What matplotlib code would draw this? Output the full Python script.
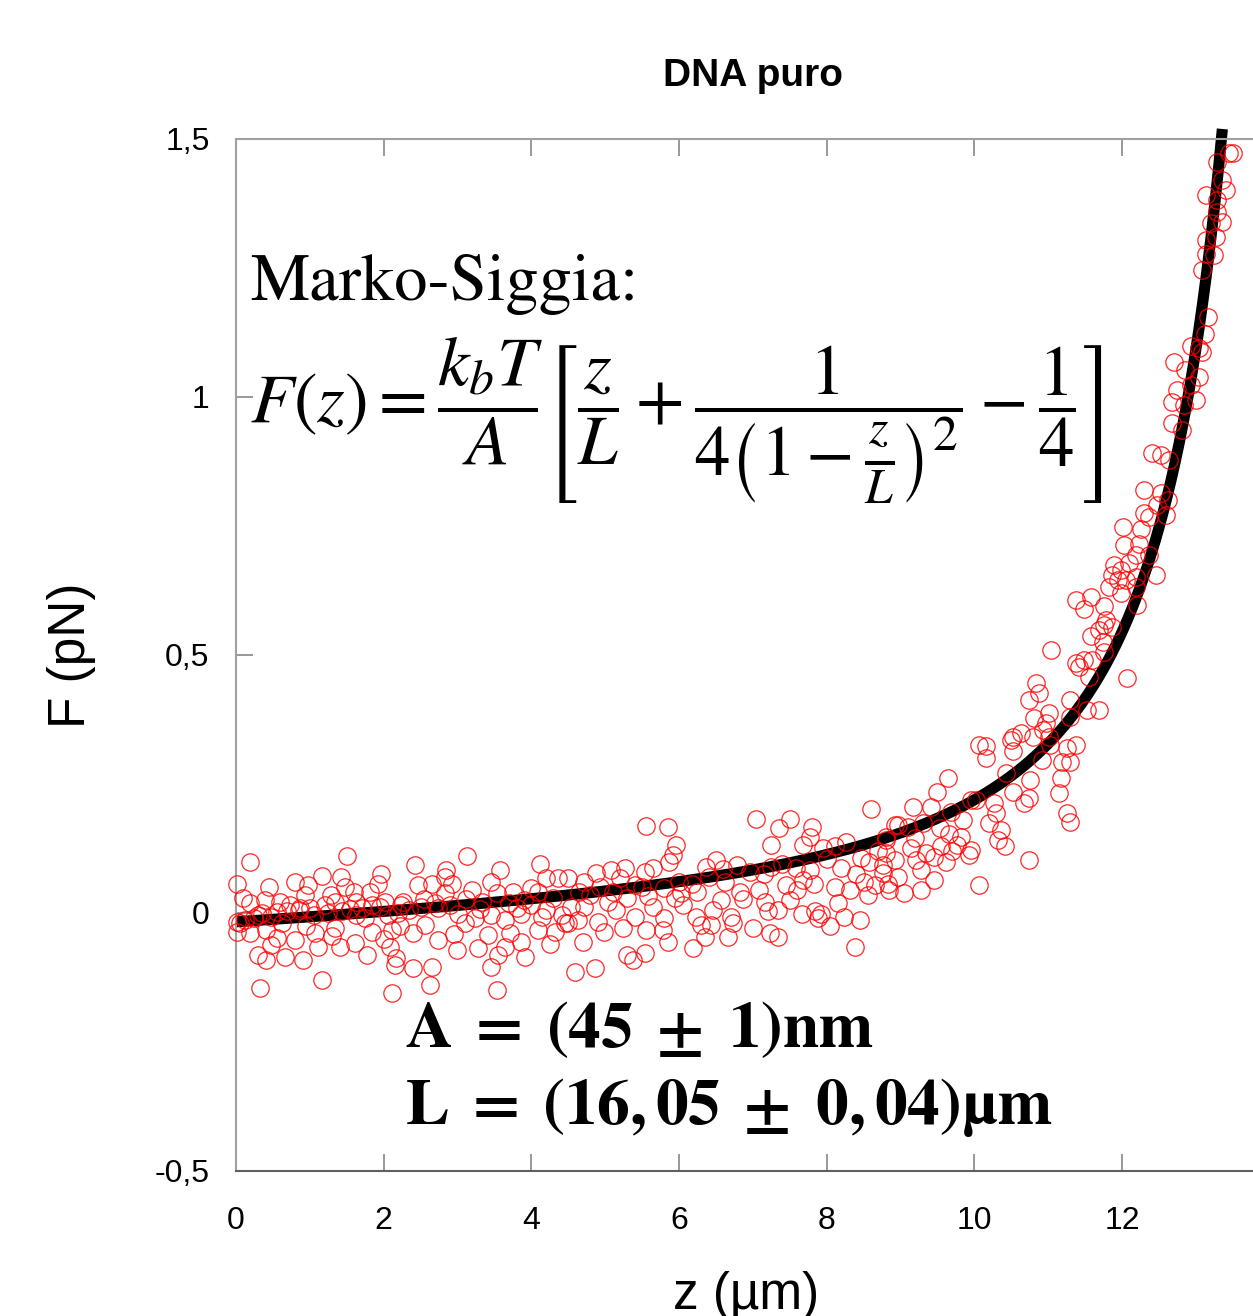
import numpy as np
import matplotlib
matplotlib.use("Agg")
import matplotlib.pyplot as plt

# force-extension points, (z in um, F in pN), grouped by extension range
seg_a = [(0.19, 0.098), (1.50, 0.111), (0.02, 0.057), (1.16, 0.072), (1.42, 0.069), (1.96, 0.075), (0.98, 0.054),
         (1.47, 0.051), (1.92, 0.056), (1.81, 0.041), (0.39, 0.025), (0.19, 0.019), (0.60, 0.022), (0.73, 0.016),
         (0.93, 0.035), (0.87, 0.009), (1.29, 0.035), (1.34, 0.022), (1.20, 0.016), (1.63, 0.022), (1.70, 0.009),
         (1.84, 0.016), (2.02, 0.022), (2.24, 0.016), (0.01, -0.017), (0.12, -0.014), (0.30, -0.004), (0.48, -0.007),
         (0.69, 0.003), (1.05, -0.004), (1.43, 0.003), (1.63, -0.004), (2.06, -0.004), (0.01, -0.036), (0.19, -0.039),
         (0.41, -0.033), (0.55, -0.049), (0.80, -0.052), (1.07, -0.039), (1.34, -0.030), (1.84, -0.036), (2.11, -0.033),
         (0.30, -0.081), (0.41, -0.091), (0.48, -0.062), (0.66, -0.085), (0.91, -0.091), (1.11, -0.065), (1.41, -0.065),
         (1.61, -0.059), (1.77, -0.081), (2.08, -0.065), (2.15, -0.101), (0.32, -0.146), (1.16, -0.130), (2.11, -0.156),
         (0.05, -0.020), (0.25, -0.010), (0.35, 0.000), (0.55, 0.002), (0.85, 0.005), (1.00, 0.010), (1.25, 0.000),
         (1.55, 0.008), (1.75, -0.010), (1.95, 0.012), (2.20, 0.000), (0.10, 0.030), (0.62, -0.020), (0.95, -0.025),
         (1.30, -0.045), (1.60, 0.040), (2.00, -0.050), (0.80, 0.060), (0.45, 0.050)]

seg_b = [(2.43, 0.093), (3.13, 0.110), (2.85, 0.083), (2.83, 0.070), (3.57, 0.083), (4.12, 0.095), (4.20, 0.067),
         (4.36, 0.067), (2.47, 0.054), (2.65, 0.057), (2.92, 0.057), (3.53, 0.038), (3.75, 0.041), (4.00, 0.048),
         (4.09, 0.041), (2.26, 0.022), (2.54, 0.028), (2.83, 0.038), (3.12, 0.028), (3.33, 0.022), (2.74, 0.009),
         (3.01, -0.001), (3.10, -0.020), (3.24, -0.010), (3.46, -0.004), (3.64, -0.014), (3.86, -0.001), (4.14, -0.007),
         (4.41, -0.004), (4.50, -0.020), (2.22, -0.026), (2.40, -0.039), (2.56, -0.023), (2.74, -0.052), (2.99, -0.072),
         (3.28, -0.068), (3.42, -0.043), (3.71, -0.039), (3.86, -0.056), (3.91, -0.085), (4.09, -0.033), (4.32, -0.036),
         (2.17, -0.088), (2.40, -0.107), (2.65, -0.104), (3.46, -0.104), (3.55, -0.081), (2.63, -0.140), (3.53, -0.149),
         (2.50, 0.012), (2.90, 0.015), (3.30, 0.008), (3.70, 0.020), (4.00, 0.015), (4.30, 0.030), (3.90, 0.025),
         (2.35, 0.005), (2.70, 0.020), (3.20, 0.045), (3.45, 0.060), (3.80, 0.010), (4.20, 0.005), (2.95, -0.040),
         (3.65, -0.065), (4.25, -0.060)]

seg_c = [(5.56, 0.169), (5.85, 0.167), (5.96, 0.132), (5.92, 0.112), (5.87, 0.099), (5.65, 0.087), (5.54, 0.080),
         (5.27, 0.087), (4.88, 0.077), (5.08, 0.083), (6.37, 0.090), (6.50, 0.103), (6.78, 0.093), (4.50, 0.067),
         (4.72, 0.061), (4.93, 0.051), (5.20, 0.067), (5.40, 0.054), (5.58, 0.032), (5.80, 0.048), (6.03, 0.038),
         (6.17, 0.057), (6.62, 0.061), (6.82, 0.041), (4.54, 0.012), (4.72, 0.012), (5.04, 0.022), (5.40, -0.007),
         (5.65, 0.012), (5.80, -0.010), (6.05, 0.016), (6.23, -0.007), (6.46, 0.006), (6.57, 0.025), (6.71, -0.007),
         (4.45, -0.020), (4.63, -0.014), (4.90, -0.017), (4.99, -0.036), (5.24, -0.030), (5.56, -0.033), (5.78, -0.033),
         (6.30, -0.023), (6.44, -0.023), (6.73, -0.020), (4.70, -0.056), (5.85, -0.056), (6.35, -0.046), (6.66, -0.046),
         (6.19, -0.068), (5.29, -0.081), (5.38, -0.091), (5.54, -0.078), (4.59, -0.114), (4.86, -0.107),
         (4.80, 0.035), (5.10, 0.040), (5.50, 0.050), (6.00, 0.060), (6.40, 0.070), (4.65, 0.040), (5.15, 0.005),
         (5.95, 0.030), (6.25, 0.040), (6.60, 0.085), (5.30, 0.030)]

seg_d = [(8.60, 0.201), (7.05, 0.182), (7.50, 0.183), (7.36, 0.164), (7.80, 0.167), (7.77, 0.148), (7.25, 0.132),
         (7.68, 0.132), (7.95, 0.125), (8.11, 0.129), (8.26, 0.138), (8.80, 0.141), (8.92, 0.171), (6.96, 0.080),
         (7.25, 0.090), (7.59, 0.087), (7.77, 0.083), (8.20, 0.087), (8.47, 0.106), (8.58, 0.099), (8.76, 0.093),
         (7.45, 0.054), (7.68, 0.064), (7.83, 0.057), (8.11, 0.051), (8.31, 0.045), (8.51, 0.061), (8.65, 0.054),
         (8.83, 0.057), (7.09, 0.045), (6.87, 0.028), (7.16, 0.022), (7.34, 0.006), (7.50, 0.025), (7.66, -0.001),
         (7.93, -0.001), (8.24, -0.007), (8.45, -0.014), (8.56, 0.035), (7.00, -0.030), (7.20, 0.003), (7.23, -0.039),
         (7.34, -0.046), (7.88, -0.010), (8.04, -0.026), (8.38, -0.065), (7.84, 0.003), (7.15, 0.075), (7.40, 0.095),
         (8.00, 0.105), (8.40, 0.075), (8.70, 0.120), (7.60, 0.045), (8.15, 0.020)]

seg_e = [(10.07, 0.326), (10.16, 0.323), (10.50, 0.335), (10.16, 0.300), (10.52, 0.313), (9.64, 0.261), (10.43, 0.271),
         (9.50, 0.235), (9.17, 0.206), (9.41, 0.206), (9.96, 0.219), (10.02, 0.219), (10.27, 0.213), (10.52, 0.235),
         (8.96, 0.171), (9.10, 0.167), (9.30, 0.174), (9.68, 0.196), (9.53, 0.164), (10.20, 0.174), (10.29, 0.193),
         (10.36, 0.161), (8.80, 0.148), (9.66, 0.154), (9.82, 0.148), (10.32, 0.141), (10.41, 0.129), (8.80, 0.116),
         (9.14, 0.125), (9.34, 0.116), (9.55, 0.129), (9.77, 0.132), (9.93, 0.112), (9.96, 0.122), (8.92, 0.103),
         (9.21, 0.103), (9.46, 0.109), (9.62, 0.099), (8.76, 0.077), (8.96, 0.070), (9.28, 0.083), (9.46, 0.064),
         (8.85, 0.045), (9.05, 0.038), (9.28, 0.045), (10.07, 0.054), (9.85, 0.180), (9.20, 0.145), (9.70, 0.120)]

seg_f = [(11.38, 0.607), (11.58, 0.613), (11.49, 0.590), (11.76, 0.594), (11.58, 0.536), (11.69, 0.548), (11.76, 0.558),
         (11.04, 0.510), (11.38, 0.484), (11.42, 0.477), (11.49, 0.490), (11.56, 0.458), (10.83, 0.445), (10.88, 0.426),
         (10.74, 0.413), (11.29, 0.413), (11.53, 0.393), (11.69, 0.393), (10.81, 0.377), (11.01, 0.387), (11.29, 0.380),
         (10.97, 0.368), (10.93, 0.355), (10.52, 0.342), (10.63, 0.348), (10.79, 0.342), (11.01, 0.342), (11.03, 0.326),
         (11.26, 0.319), (11.38, 0.326), (10.92, 0.297), (11.19, 0.293), (11.29, 0.293), (11.18, 0.261), (10.75, 0.258),
         (11.15, 0.232), (10.68, 0.213), (10.74, 0.222), (11.26, 0.193), (11.29, 0.177), (10.74, 0.103)]

seg_g = [(12.41, 0.891), (12.53, 0.888), (12.64, 0.878), (12.30, 0.820), (12.53, 0.813), (12.62, 0.800), (12.48, 0.791),
         (12.30, 0.775), (12.37, 0.768), (12.59, 0.771), (12.01, 0.749), (12.03, 0.713), (12.26, 0.745), (12.23, 0.716),
         (12.19, 0.694), (11.89, 0.674), (11.99, 0.665), (12.10, 0.678), (12.37, 0.694), (11.87, 0.655), (11.94, 0.645),
         (12.05, 0.645), (12.19, 0.652), (12.46, 0.655), (11.83, 0.632), (11.99, 0.620), (12.19, 0.632), (12.21, 0.597),
         (11.78, 0.568), (11.87, 0.555), (11.74, 0.526), (11.76, 0.506), (11.60, 0.490), (12.07, 0.455)]

seg_h = [(13.29, 1.456), (13.50, 1.472), (13.45, 1.472), (13.36, 1.421), (13.41, 1.401), (13.29, 1.382), (13.14, 1.391),
         (13.29, 1.359), (13.36, 1.340), (13.20, 1.337), (13.27, 1.311), (13.14, 1.304), (13.25, 1.275), (13.14, 1.278),
         (13.09, 1.246), (13.16, 1.156), (13.12, 1.123), (12.93, 1.098), (13.04, 1.094), (13.09, 1.088), (12.71, 1.068),
         (12.86, 1.052), (13.04, 1.039), (12.75, 1.014), (12.93, 1.023), (12.68, 0.991), (13.00, 0.994), (12.84, 0.985),
         (12.68, 0.949), (12.82, 0.936)]

xtick_vals = [0, 2, 4, 6, 8, 10, 12, 14]
xtick_labels = ['0', '2', '4', '6', '8', '10', '12', '14']
ytick_vals = [-0.5, 0, 0.5, 1, 1.5]
ytick_labels = ['-0,5', '0', '0,5', '1', '1,5']

# fitted worm-like chain curve (Marko-Siggia interpolation)
kbt_over_a = 0.095   # pN
l_fit = 15.3         # um
f_offset = -0.017    # pN
z_end = 13.36


def marko_siggia(z):
    x = z / l_fit
    return kbt_over_a * (x + 1.0 / (4.0 * (1.0 - x) ** 2) - 0.25) + f_offset


pts = np.array(seg_a + seg_b + seg_c + seg_d + seg_e + seg_f + seg_g + seg_h)

plt.rcParams['mathtext.fontset'] = 'stix'
sans = 'Liberation Sans'

W, H = 1253, 1316
fig = plt.figure(figsize=(W / 100, H / 100), dpi=100)
x0, x14 = 236, 1269.6
y_top, y_bot = 139, 1171
ax = fig.add_axes([x0 / W, 1 - y_bot / H, (x14 - x0) / W, (y_bot - y_top) / H])

zz = np.linspace(0, z_end, 500)
ax.plot(zz, marko_siggia(zz), color='black', lw=8, solid_capstyle='butt', zorder=2, clip_on=False)
ax.plot(pts[:, 0], pts[:, 1], 'o', mfc='none', mec='red', ms=12.5, mew=0.9, alpha=0.85,
        zorder=3, clip_on=False)

ax.set_xlim(0, 14)
ax.set_ylim(-0.5, 1.5)
ax.set_xticks(xtick_vals)
ax.set_xticklabels(xtick_labels, fontsize=23, family=sans)
ax.set_yticks(ytick_vals)
ax.set_yticklabels(ytick_labels, fontsize=23, family=sans)
ax.tick_params(direction='in', length=12, width=1.2, color='#888888', top=True, right=True)
ax.tick_params(axis='y', pad=19)
ax.tick_params(axis='x', pad=25)
for side in ['left', 'top', 'right']:
    ax.spines[side].set_color('#a0a0a0')
    ax.spines[side].set_linewidth(1.5)
ax.spines['bottom'].set_color('#606060')
ax.spines['bottom'].set_linewidth(1.5)

fig.text(753 / W, 1 - 76 / H, 'DNA puro', ha='center', va='center', fontsize=28,
         fontweight='bold', family=sans)
fig.text(72 / W, 1 - 655 / H, 'F (pN)', ha='center', va='center', rotation=90, fontsize=37, family=sans)
fig.text(746 / W, 1 - 1296 / H, 'z (µm)', ha='center', va='center', fontsize=37, family=sans)

# model annotation and fit results
ax.text(0.19, 1.188, 'Marko-Siggia:', ha='left', va='baseline', fontsize=48, family='STIXGeneral')
ax.text(0.19, 0.955,
        r'$F(z) = \dfrac{k_b T}{A}\left[\dfrac{z}{L} + \dfrac{1}{4\left(1-\frac{z}{L}\right)^2} - \dfrac{1}{4}\right]$',
        ha='left', va='center', fontsize=51)
ax.text(2.29, -0.2597, r'$\mathbf{A \;=\; (45 \;\pm\; 1)nm}$', ha='left', va='baseline', fontsize=47)
ax.text(2.29, -0.409, r'$\mathbf{L \;=\; (16,05 \;\pm\; 0,04)µm}$', ha='left', va='baseline', fontsize=47)

fig.savefig('out.png', dpi=100)
